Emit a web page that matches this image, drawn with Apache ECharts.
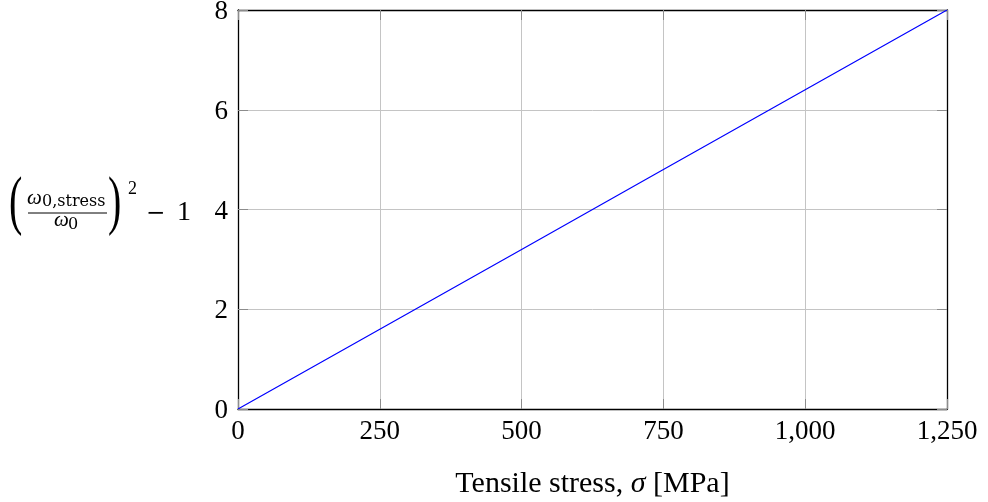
<!DOCTYPE html>
<html>
<head>
<meta charset="utf-8">
<script src="https://cdn.jsdelivr.net/npm/echarts@6/dist/echarts.min.js"></script>
<style>
  html, body { margin: 0; padding: 0; background: #fff; }
  #chart { width: 988px; height: 502px; }
</style>
</head>
<body>
<div id="chart"></div>
<script>
// Tensile stress (MPa) and the squared frequency-ratio term
const stress = [0, 250, 500, 750, 1000, 1250];
const freqTerm = [0, 1.6, 3.2, 4.8, 6.4, 8.0];
const xTicks = [0, 250, 500, 750, 1000, 1250];
const xTickLabels = ['0', '250', '500', '750', '1,000', '1,250'];
const yTickLabels = ['0', '2', '4', '6', '8'];
const xTitle = 'Tensile stress, {i|σ} [MPa]';

const FONT = '"Liberation Serif", "DejaVu Serif", serif';
const SUBFONT = '"DejaVu Serif", serif';
const chart = echarts.init(document.getElementById('chart'), null, { renderer: 'canvas' });

const tickStyle = { show: true, inside: true, length: 10, lineStyle: { color: '#8c8c8c', width: 1 } };
const gridStyle = { show: true, lineStyle: { color: '#c4c4c4', width: 1 } };
const frameLine = { show: true, onZero: false, lineStyle: { color: '#000', width: 1.3 } };

// small helper for the pieces of the y-axis title
const piece = (text, x, y, font, extra) =>
  Object.assign({ type: 'text', x: x, y: y, style: { text: text, font: font, fill: '#000' } }, extra || {});

chart.setOption({
  animation: false,
  backgroundColor: '#fff',
  grid: { left: 238, right: 41, top: 10, bottom: 93, containLabel: false, outerBoundsMode: 'none' },
  xAxis: [
    {
      type: 'value', min: 0, max: 1250, interval: 250, position: 'bottom',
      axisLine: frameLine, axisTick: tickStyle, splitLine: gridStyle,
      axisLabel: {
        margin: 9, color: '#000', fontFamily: FONT, fontSize: 27,
        formatter: v => xTickLabels[xTicks.indexOf(v)] ?? ''
      },
      name: xTitle, nameLocation: 'middle', nameGap: 60,
      nameTextStyle: {
        color: '#000', fontFamily: FONT, fontSize: 30,
        rich: { i: { fontFamily: FONT, fontSize: 30, fontStyle: 'italic', color: '#000' } }
      }
    },
    {
      type: 'value', min: 0, max: 1250, interval: 250, position: 'top',
      axisLine: frameLine, axisTick: tickStyle, splitLine: { show: false },
      axisLabel: { show: false }
    }
  ],
  yAxis: [
    {
      type: 'value', min: 0, max: 8, interval: 2, position: 'left',
      axisLine: frameLine, axisTick: tickStyle, splitLine: gridStyle,
      axisLabel: {
        margin: 10, color: '#000', fontFamily: FONT, fontSize: 27,
        verticalAlign: 'top', lineHeight: 4,
        formatter: v => yTickLabels[v / 2] ?? ''
      }
    },
    {
      type: 'value', min: 0, max: 8, interval: 2, position: 'right',
      axisLine: frameLine, axisTick: tickStyle, splitLine: { show: false },
      axisLabel: { show: false }
    }
  ],
  series: [{
    type: 'line',
    data: stress.map((s, i) => [s, freqTerm[i]]),
    showSymbol: false,
    lineStyle: { color: '#0000ff', width: 1.2 },
    z: 5
  }],
  // y-axis title: (ω_{0,stress} / ω_0)^2 − 1
  graphic: [
    piece('(', 9, 172, '40px ' + FONT, { scaleY: 1.65 }),
    piece('ω', 27, 188, 'italic 21px ' + FONT),
    piece('0,stress', 42, 193.5, '16px ' + SUBFONT),
    { type: 'line', shape: { x1: 28, y1: 213, x2: 107, y2: 213 }, style: { stroke: '#000', lineWidth: 1 } },
    piece('ω', 54, 210, 'italic 21px ' + FONT),
    piece('0', 68, 216.5, '16px ' + SUBFONT),
    piece(')', 108, 172, '40px ' + FONT, { scaleY: 1.65 }),
    piece('2', 128, 180, '18px ' + FONT),
    piece('−', 146, 202.5, '23px ' + SUBFONT),
    piece('1', 177, 198.5, '28px ' + FONT)
  ]
});
</script>
</body>
</html>
